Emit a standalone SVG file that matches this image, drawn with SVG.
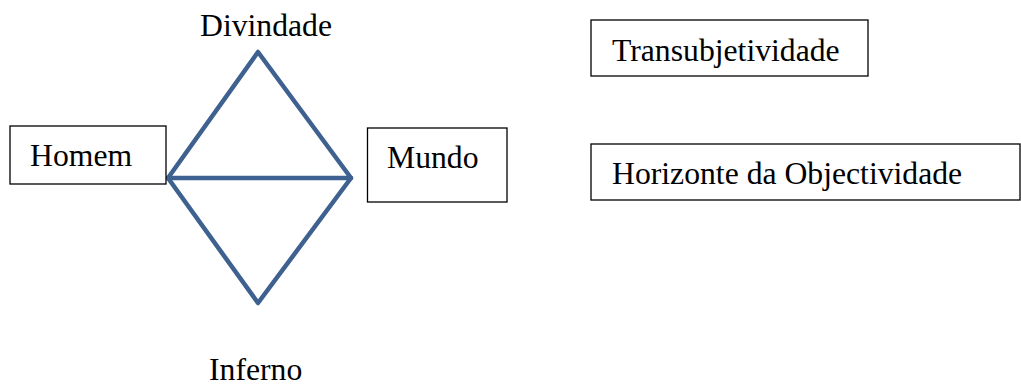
<svg xmlns="http://www.w3.org/2000/svg" width="1021" height="386" viewBox="0 0 1021 386">
<style>
.box{fill:#fff;stroke:#000;stroke-width:1.3}
.t{font-family:"Liberation Serif","Times New Roman",serif;font-size:31.7px;fill:#000}
.c{fill:none;stroke:#3f6190;stroke-width:4.5;stroke-linejoin:round;stroke-linecap:round}
</style>
<rect width="1021" height="386" fill="#fff"/>
<g id="connectors">
<path class="c" d="M168,178 L258,52 L351,178 L258,303 Z"/>
<line class="c" x1="168" y1="178" x2="351" y2="178"/>
</g>
<g id="divindade"><text class="t" x="200" y="36">Divindade</text></g>
<g id="inferno"><text class="t" x="209" y="380">Inferno</text></g>
<g id="homem"><rect class="box" x="10" y="126" width="156" height="58"/><text class="t" x="30" y="166">Homem</text></g>
<g id="mundo"><rect class="box" x="367.5" y="128" width="139.5" height="74"/><text class="t" x="387" y="168">Mundo</text></g>
<g id="transubjetividade"><rect class="box" x="591" y="20" width="277" height="56"/><text class="t" x="612" y="61">Transubjetividade</text></g>
<g id="horizonte"><rect class="box" x="591" y="144" width="429" height="56"/><text class="t" x="612" y="184">Horizonte da Objectividade</text></g>
</svg>
